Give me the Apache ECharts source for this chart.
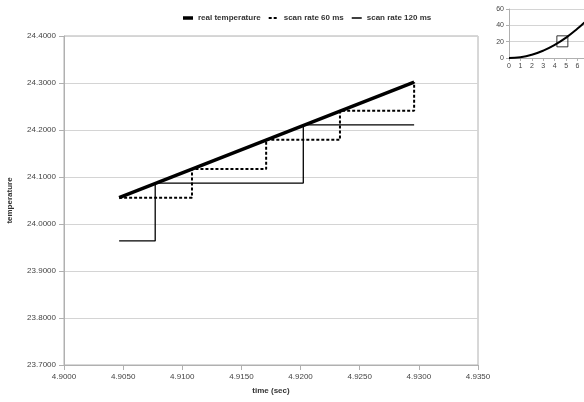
<!DOCTYPE html>
<html>
<head>
<meta charset="utf-8">
<script src="https://cdn.jsdelivr.net/npm/echarts@6/dist/echarts.min.js"></script>
<style>
  html, body { margin: 0; padding: 0; background: #fff; }
  #main { width: 584px; height: 402px; }
</style>
</head>
<body>
<div id="main"></div>
<script>
// 数据
var realTemp = [[4.90466, 24.056], [4.92960, 24.302]];
var scan60 = [[4.90466, 24.056], [4.91082, 24.117], [4.91709, 24.179], [4.92333, 24.241], [4.92960, 24.302]];
var scan120 = [[4.90466, 23.964], [4.90771, 24.087], [4.92023, 24.211], [4.92960, 24.211]];
// 右上角小图
var insetCurve = [[0, 0], [1, 1], [2, 4], [3, 9], [4, 16], [5, 25], [6, 36], [6.6, 43.5]];
var insetBox = [[4.67, 20.4]];

(function(){
    var myChart = echarts.init(document.getElementById('main'));
    var font = 'Liberation Sans, Arial, sans-serif';
    // 图例图标（10x10 框，四角小点撑住尺寸）
    var box = 'M0,0h0.01v0.01h-0.01z M9.99,9.99h0.01v0.01h-0.01z ';
    option = {
        animation: false,
        textStyle: { fontFamily: font },
        legend: {
            top: 8,
            left: 178,
            itemWidth: 10,
            itemHeight: 10,
            itemGap: 8,
            textStyle: { fontSize: 8, fontWeight: 'bold', color: '#333', fontFamily: font },
            data: [
                { name: 'real temperature', icon: 'path://' + box + 'M0,3.25h10v3.5h-10z' },
                { name: 'scan rate 60 ms', icon: 'path://' + box + 'M0,4h3v2h-3z M5,4h3v2h-3z' },
                { name: 'scan rate 120 ms', icon: 'path://' + box + 'M0,4.3h10v1.4h-10z' }
            ]
        },
        grid: [{
            left: 64, right: 106, top: 36, bottom: 37,
            outerBoundsMode: 'none',
            show: true, borderColor: '#b0b0b0', borderWidth: 1
        }, {
            left: 509, width: 80, top: 9, bottom: 344,
            outerBoundsMode: 'none',
            show: false
        }],
        xAxis: [{
            gridIndex: 0,
            type: 'value',
            min: 4.9, max: 4.935, interval: 0.005,
            name: 'time (sec)',
            nameLocation: 'middle',
            nameGap: 22,
            nameTextStyle: { fontSize: 8, fontWeight: 'bold', color: '#333' },
            axisLine: { lineStyle: { color: '#b0b0b0' } },
            axisTick: { show: true, length: 5, lineStyle: { color: '#b0b0b0' } },
            axisLabel: { fontSize: 8, color: '#444', formatter: function(v){ return v.toFixed(4); } },
            splitLine: { show: false }
        }, {
            gridIndex: 1,
            type: 'value',
            min: 0, max: 7, interval: 1,
            axisLine: { lineStyle: { color: '#b0b0b0' } },
            axisTick: { show: true, length: 3, lineStyle: { color: '#b0b0b0' } },
            axisLabel: { fontSize: 7, color: '#444', margin: 5 },
            splitLine: { show: false }
        }],
        yAxis: [{
            gridIndex: 0,
            type: 'value',
            min: 23.7, max: 24.4, interval: 0.1,
            name: 'temperature',
            nameLocation: 'middle',
            nameGap: 50,
            nameTextStyle: { fontSize: 8, fontWeight: 'bold', color: '#333' },
            axisLine: { show: true, lineStyle: { color: '#b0b0b0' } },
            axisTick: { show: true, length: 5, lineStyle: { color: '#b0b0b0' } },
            axisLabel: { fontSize: 8, color: '#444', formatter: function(v){ return v.toFixed(4); } },
            splitLine: { lineStyle: { color: '#d4d4d4' } }
        }, {
            gridIndex: 1,
            type: 'value',
            min: 0, max: 60, interval: 20,
            axisLine: { show: true, lineStyle: { color: '#b0b0b0' } },
            axisTick: { show: true, length: 3, lineStyle: { color: '#b0b0b0' } },
            axisLabel: { fontSize: 7, color: '#444', margin: 5 },
            splitLine: { lineStyle: { color: '#d4d4d4' } }
        }],
        series: [
            {
                name: 'real temperature',
                type: 'line',
                xAxisIndex: 0, yAxisIndex: 0,
                symbol: 'none',
                lineStyle: { color: '#000', width: 3.5 },
                itemStyle: { color: '#000' },
                data: realTemp,
                z: 5
            },
            {
                name: 'scan rate 60 ms',
                type: 'line',
                xAxisIndex: 0, yAxisIndex: 0,
                step: 'end',
                symbol: 'none',
                lineStyle: { color: '#000', width: 2, type: [3, 2] },
                itemStyle: { color: '#000' },
                data: scan60,
                z: 3
            },
            {
                name: 'scan rate 120 ms',
                type: 'line',
                xAxisIndex: 0, yAxisIndex: 0,
                step: 'end',
                symbol: 'none',
                lineStyle: { color: '#000', width: 1.3 },
                itemStyle: { color: '#000' },
                data: scan120,
                z: 4
            },
            {
                type: 'line',
                xAxisIndex: 1, yAxisIndex: 1,
                smooth: true,
                symbol: 'none',
                lineStyle: { color: '#000', width: 2 },
                data: insetCurve
            },
            {
                type: 'scatter',
                xAxisIndex: 1, yAxisIndex: 1,
                symbol: 'rect',
                symbolSize: 11,
                itemStyle: { color: 'rgba(0,0,0,0)', borderColor: '#000', borderWidth: 1 },
                data: insetBox
            }
        ]
    };
    myChart.setOption(option);
})();
</script>
</body>
</html>
